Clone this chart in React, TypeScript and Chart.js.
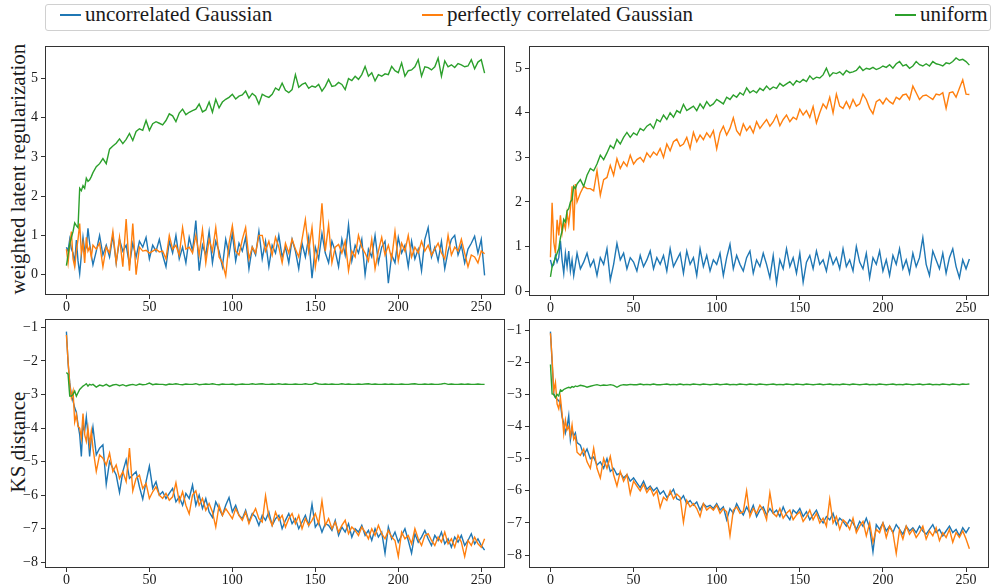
import React, { useEffect, useRef } from 'react';
import { Chart, registerables } from 'chart.js';

Chart.register(...registerables);

// x positions (training step index)
const X = [0, 1, 2, 3, 4, 5, 6, 7, 8, 9, 10, 11, 12, 13, 14, 15, 16,
  18, 20, 22, 24, 26, 28, 30, 32, 34, 36,
  38, 40, 42, 44, 46, 48, 50, 52, 54, 56,
  58, 60, 62, 64, 66, 68, 70, 72, 74, 76,
  78, 80, 82, 84, 86, 88, 90, 92, 94, 96,
  98, 100, 102, 104, 106, 108, 110, 112, 114, 116,
  118, 120, 122, 124, 126, 128, 130, 132, 134, 136,
  138, 140, 142, 144, 146, 148, 150, 152, 154, 156,
  158, 160, 162, 164, 166, 168, 170, 172, 174, 176,
  178, 180, 182, 184, 186, 188, 190, 192, 194, 196,
  198, 200, 202, 204, 206, 208, 210, 212, 214, 216,
  218, 220, 222, 224, 226, 228, 230, 232, 234, 236,
  238, 240, 242, 244, 246, 248, 250, 252];

const X_TICKS = [0, 50, 100, 150, 200, 250];
const REG_TICKS = [0, 1, 2, 3, 4, 5];
const KS_TICKS = [-8, -7, -6, -5, -4, -3, -2, -1];

const SERIES_LABELS = ['uncorrelated Gaussian', 'perfectly correlated Gaussian', 'uniform'];
const SERIES_COLORS = ['#1f77b4', '#ff7f0e', '#2ca02c'];
const Y_TITLES = ['weighted latent regularization', 'KS distance'];

// ---------- top-left: weighted latent regularization ----------
const TL_UNCORR = [0.7, 0.6, 0.9, 0.65, 0.55, 0.3, 0.88, 0.35, 0.02, 0.5, 0.95, 0.6, 0.7, 1.18, 0.8, 0.5, 0.25,
  0.6, 1.0, 0.5, 0.75, 0.45, 1.0, 0.3, 0.9, 0.6, 0.75,
  0.25, 0.8, 0.45, 0.85, 0.7, 0.95, 0.4, 0.75, 0.6, 0.9,
  0.5, 0.2, 0.85, 0.55, 1.0, 0.4, 0.7, 0.3, 0.95, 0.6,
  1.38, 0.1, 0.75, 0.5, 1.1, 0.3, 0.85, 0.6, 0.2, 0.9,
  0.5, 1.05, 0.35, 0.8, 0.6, 0.95, 0.15, 0.7, 0.5, 1.1,
  0.4, 0.85, 0.2, 0.75, 0.55, 1.0, 0.45, 0.7, 0.3, 0.9,
  0.6, 0.15, 0.8, 0.45, 0.95, -0.09, 0.7, 0.4, 1.05, 0.55,
  0.3, 0.85, 0.6, 0.2, 0.9, 0.5, 1.27, 0.35, 0.75, 0.55,
  0.9, 0.0, 0.65, 0.45, 1.0, 0.3, 0.7, 0.85, -0.22, 0.5,
  0.3, 0.95, 0.55, 0.75, 0.2, 0.85, 0.4, 0.65, 0.1, 0.9,
  1.2, 0.45, 0.7, 0.35, 0.85, 0.15, 0.6, 0.9, 1.0, 0.5,
  0.75, 0.3, 0.65, 0.8, 0.98, 0.55, 0.9, -0.02];
const TL_CORR = [0.65, 0.3, 0.75, 1.1, 0.4, 0.2, 0.6, 0.9, 1.3, 0.55, 0.8, 0.3, 0.95, 0.6, 0.7, 0.45, 0.75,
  0.65, 0.8, 0.2, 0.7, 0.55, 1.1, 0.3, 0.95, 0.2, 1.42,
  0.1, 1.3, 0.0, 0.7, 0.6, 0.62, 0.55, 0.6, 0.65, 0.58,
  0.6, 0.4, 1.0, 0.65, 0.75, 0.5, 1.2, 0.65, 0.7, 0.55,
  1.0, 0.5, 1.15, 0.3, 0.9, 0.6, 1.2, 0.45, 0.3, -0.03,
  0.8, 1.25, 0.6, 0.5, 0.9, 1.2, 0.4, 0.7, 0.55, 1.0,
  1.0, 0.6, 0.85, 0.5, 0.95, 0.7, 0.3, 0.8, 0.55, 0.9,
  0.65, 0.45, 0.9, 1.4, 0.6, 1.2, 0.2, 0.75, 1.82, 0.6,
  1.27, 0.3, 0.7, 0.77, 0.55, 0.85, 0.1, 0.6, 0.45, 1.0,
  0.7, 0.55, 0.35, 0.9, 0.15, 0.6, 0.95, 0.5, 0.75, 0.4,
  1.1, 0.35, 0.8, 0.6, 1.0, 0.45, 0.7, 0.55, 0.85, 0.6,
  0.75, 0.5, 0.65, 0.8, 0.55, 0.4, 1.0, 0.5, 0.7, 0.6,
  0.9, 0.55, 0.2, 0.5, 0.45, 0.3, 0.6, 0.53];
const TL_UNIFORM = [0.23, 0.5, 0.79, 0.95, 1.1, 1.32, 1.25, 1.2, 2.2, 2.14, 2.27, 2.2, 2.46, 2.38, 2.42, 2.5, 2.6,
  2.75, 2.83, 2.96, 2.83, 3.2, 3.28, 3.35, 3.46, 3.34, 3.45,
  3.6, 3.42, 3.65, 3.72, 3.68, 3.93, 3.68, 3.85, 3.9, 3.86,
  3.82, 3.93, 4.1, 4.05, 3.9, 4.12, 4.22, 4.08, 4.14, 4.18,
  4.22, 4.35, 4.15, 4.2, 4.4, 4.14, 4.47, 4.25, 4.4, 4.47,
  4.52, 4.6, 4.48, 4.55, 4.58, 4.68, 4.5, 4.62, 4.55, 4.35,
  4.6, 4.55, 4.52, 4.6, 4.76, 4.7, 4.88, 4.7, 4.64, 4.72,
  5.1, 4.78, 4.85, 4.89, 4.75, 4.81, 4.78, 4.85, 4.68, 4.8,
  4.98, 4.8, 4.82, 4.9, 4.85, 4.72, 5.0, 4.95, 5.06, 4.98,
  5.1, 5.31, 5.06, 5.15, 4.94, 5.1, 5.06, 5.12, 5.1, 5.31,
  5.2, 5.15, 5.4, 5.06, 5.2, 5.22, 5.3, 5.48, 5.06, 5.3,
  5.28, 5.22, 5.3, 5.52, 5.06, 5.45, 5.3, 5.35, 5.28, 5.38,
  5.35, 5.3, 5.32, 5.48, 5.25, 5.42, 5.48, 5.14];

// ---------- top-right: weighted latent regularization ----------
const TR_UNCORR = [0.7, 0.55, 0.6, 0.8, 0.65, 0.75, 1.13, 0.7, 0.4, 0.85, 0.55, 0.9, 0.45, 0.7, 0.35, 0.6, 0.85,
  0.5, 0.65, 0.85, 0.55, 0.7, 0.35, 0.75, 0.6, 0.95, 0.25,
  0.6, 1.07, 0.7, 0.85, 0.5, 0.75, 0.65, 0.45, 0.8, 0.55,
  0.7, 0.9, 0.5, 0.75, 0.6, 0.8, 0.45, 0.95, 0.55, 0.7,
  0.85, 0.4, 0.9, 0.6, 0.75, 0.35, 0.95, 0.55, 0.8, 0.45,
  0.7, 0.6, 0.85, 0.35, 0.75, 1.05, 0.5, 0.8, 0.6, 0.45,
  0.75, 0.9, 0.4, 0.7, 0.55, 0.85, 0.6, 0.3, 0.8, 0.18,
  0.7, 0.5, 0.95, 0.55, 0.75, 0.4, 0.85, 0.2, 0.65, 0.8,
  0.5, 0.9, 0.6, 0.7, 0.45, 0.85, 0.6, 0.75, 0.5, 0.95,
  0.55, 0.7, 0.45, 1.0, 0.65, 0.5, 0.85, 0.3, 0.75, 0.6,
  0.9, 0.45, 0.7, 0.35, 0.8, 0.6, 0.95, 0.5, 0.7, 0.4,
  0.85, 0.55, 0.75, 1.2, 0.6, 0.35, 0.9, 0.7, 0.5, 0.85,
  0.4, 0.75, 0.95, 0.55, 0.3, 0.7, 0.5, 0.72];
const TR_CORR = [0.76, 1.98, 1.1, 0.85, 1.6, 1.25, 1.7, 1.3, 1.55, 1.4, 1.75, 1.5, 1.85, 2.35, 1.36, 2.4, 2.0,
  2.2, 2.35, 2.3, 2.3, 2.25, 2.7, 2.15, 2.5, 2.55, 2.82,
  2.6, 2.97, 2.75, 2.9, 2.8, 3.05, 2.85, 2.95, 3.0, 2.9,
  3.1, 3.0, 3.12, 3.05, 3.2, 3.0, 3.3, 3.15, 3.35, 3.41,
  3.25, 3.3, 3.45, 3.2, 3.56, 3.35, 3.5, 3.4, 3.55, 3.45,
  3.6, 3.19, 3.55, 3.7, 3.5, 3.65, 3.89, 3.6, 3.5, 3.75,
  3.6, 3.7, 3.55, 3.8, 3.65, 3.75, 3.85, 3.7, 3.8, 3.95,
  3.71, 3.85, 3.95, 3.8, 3.9, 3.85, 4.08, 3.95, 4.05, 3.9,
  4.14, 3.77, 4.0, 4.2, 4.1, 4.35, 4.0, 4.42, 4.15, 4.1,
  4.25, 4.1, 4.3, 4.15, 4.2, 4.42, 4.3, 4.1, 3.98, 4.25,
  4.3, 4.2, 4.33, 4.25, 4.2, 4.35, 4.3, 4.4, 4.42, 4.3,
  4.6, 4.45, 4.3, 4.38, 4.4, 4.35, 4.3, 4.42, 4.4, 4.45,
  4.1, 4.45, 4.47, 4.35, 4.55, 4.74, 4.42, 4.41];
const TR_UNIFORM = [0.32, 0.55, 0.65, 0.75, 0.85, 0.95, 1.2, 1.35, 1.61, 1.55, 1.8, 1.85, 2.0, 2.05, 2.35, 2.3, 2.4,
  2.5, 2.35, 2.6, 2.75, 2.7, 2.85, 3.05, 2.95, 3.1, 3.27,
  3.2, 3.4, 3.3, 3.45, 3.56, 3.45, 3.55, 3.5, 3.65, 3.6,
  3.7, 3.75, 3.65, 3.85, 3.8, 3.95, 3.85, 4.0, 3.9, 4.05,
  4.0, 4.19, 4.05, 4.1, 4.15, 4.05, 4.2, 4.1, 4.25, 4.15,
  4.2, 4.3, 4.25, 4.2, 4.35, 4.3, 4.4, 4.35, 4.45, 4.4,
  4.56, 4.45, 4.5, 4.45, 4.55, 4.5, 4.6, 4.52, 4.58, 4.55,
  4.66, 4.6, 4.65, 4.7, 4.62, 4.72, 4.68, 4.75, 4.7, 4.83,
  4.75, 4.8, 4.78, 4.85, 5.0, 4.82, 4.9, 4.88, 4.92, 4.85,
  4.95, 4.9, 4.92, 4.95, 5.04, 4.95, 5.0, 4.98, 5.02, 4.97,
  5.0, 5.05, 5.02, 5.08, 5.0, 5.1, 5.15, 5.05, 5.08, 5.0,
  5.05, 5.15, 5.08, 5.05, 5.1, 5.05, 5.15, 5.1, 5.08, 5.05,
  5.12, 5.1, 5.15, 5.23, 5.18, 5.2, 5.15, 5.07];

// ---------- bottom-left: KS distance ----------
const BL_UNCORR = [-1.13, -2.06, -2.65, -3.03, -3.2, -3.4, -3.53, -3.9, -4.2, -4.85, -3.9, -4.1, -3.67, -4.2, -4.85, -4.3, -3.97,
  -4.8, -4.6, -4.5, -5.68, -5.0, -5.2, -5.4, -5.92, -5.3, -4.95,
  -5.5, -5.4, -5.3, -5.75, -6.12, -5.6, -5.14, -5.8, -5.6, -6.0,
  -5.9, -6.1, -5.95, -5.8, -6.2, -6.05, -6.3, -5.95, -6.1, -5.7,
  -6.3, -6.0, -6.4, -6.1, -6.5, -6.66, -6.2, -6.4, -6.6, -6.3,
  -6.07, -6.5, -6.3, -6.6, -6.7, -6.45, -6.8, -6.55, -6.65, -6.9,
  -6.6, -6.75, -6.5, -6.9, -6.7, -6.6, -7.0, -6.75, -6.55, -6.85,
  -6.7, -7.0, -6.8, -6.6, -6.9, -6.27, -6.95, -6.8, -7.1, -6.85,
  -6.9, -7.05, -6.75, -7.2, -6.95, -7.1, -6.85, -7.25, -7.0, -7.1,
  -6.9, -7.2, -7.05, -7.35, -7.0, -7.25, -7.1, -7.73, -6.95, -7.3,
  -7.1, -7.4, -7.2, -7.0, -7.35, -7.73, -7.15, -7.4, -7.25, -7.05,
  -7.3, -7.5, -7.2, -7.35, -7.1, -7.45, -7.3, -7.55, -7.25, -7.4,
  -7.2, -7.5, -7.35, -7.15, -7.45, -7.3, -7.5, -7.64];
const BL_CORR = [-1.23, -2.0, -2.7, -3.1, -2.9, -3.82, -3.6, -3.95, -4.0, -4.3, -3.57, -4.2, -4.4, -4.0, -4.5, -4.1, -4.6,
  -5.29, -4.8, -4.9, -5.1, -4.75, -5.3, -5.1, -5.5, -5.3, -5.6,
  -4.6, -5.87, -5.5, -5.4, -5.8, -5.65, -6.1, -5.9, -5.75, -6.0,
  -6.1, -5.95, -6.15, -6.05, -5.63, -6.2, -5.9, -6.3, -6.56, -6.0,
  -5.87, -6.3, -6.1, -6.45, -6.25, -6.5, -6.95, -6.3, -6.6, -6.4,
  -6.55, -6.7, -6.4, -6.6, -6.75, -6.5, -6.85, -6.6, -6.4, -6.7,
  -6.8, -6.02, -6.65, -6.9, -6.5, -6.75, -6.6, -6.95, -6.7, -6.55,
  -6.85, -6.6, -7.0, -6.7, -6.9, -6.75, -6.55, -6.85, -6.17, -6.9,
  -6.7, -7.0, -6.8, -7.1, -6.9, -6.75, -7.15, -6.95, -7.05, -7.2,
  -6.95, -7.1, -7.3, -7.0, -7.2, -6.9, -7.15, -7.3, -7.05, -7.25,
  -7.35, -7.83, -7.1, -7.3, -7.2, -7.45, -7.0, -7.3, -7.5, -7.2,
  -7.15, -7.35, -7.5, -7.25, -7.4, -7.1, -7.45, -7.3, -7.55, -7.2,
  -7.4, -7.83, -7.35, -7.5, -7.25, -7.45, -7.55, -7.3];
const BL_UNIFORM = [-2.35, -2.4, -3.05, -3.05, -3.0, -2.9, -3.05, -2.95, -2.85, -2.8, -2.75, -2.72, -2.68, -2.75, -2.7, -2.72, -2.7,
  -2.78, -2.72, -2.75, -2.7, -2.76, -2.72, -2.7, -2.74, -2.71, -2.75,
  -2.72, -2.7, -2.73, -2.69, -2.71, -2.7, -2.66, -2.71, -2.69, -2.7,
  -2.7, -2.72, -2.69, -2.7, -2.68, -2.7, -2.71, -2.69, -2.7, -2.7,
  -2.68, -2.71, -2.7, -2.69, -2.7, -2.68, -2.7, -2.71, -2.69, -2.7,
  -2.7, -2.69, -2.71, -2.7, -2.69, -2.7, -2.7, -2.68, -2.7, -2.69,
  -2.68, -2.7, -2.7, -2.69, -2.7, -2.68, -2.7, -2.69, -2.7, -2.7,
  -2.69, -2.7, -2.7, -2.68, -2.7, -2.7, -2.66, -2.69, -2.7, -2.69,
  -2.7, -2.69, -2.7, -2.7, -2.68, -2.7, -2.69, -2.7, -2.7, -2.69,
  -2.7, -2.69, -2.68, -2.7, -2.69, -2.7, -2.7, -2.69, -2.7, -2.69,
  -2.7, -2.7, -2.69, -2.7, -2.7, -2.69, -2.68, -2.7, -2.7, -2.69,
  -2.7, -2.69, -2.7, -2.7, -2.69, -2.67, -2.7, -2.69, -2.7, -2.7,
  -2.69, -2.7, -2.69, -2.7, -2.7, -2.69, -2.7, -2.7];

// ---------- bottom-right: KS distance ----------
const BR_UNCORR = [-1.05, -2.0, -2.99, -3.1, -3.15, -3.2, -3.3, -3.7, -3.9, -4.2, -4.0, -3.66, -4.42, -4.1, -4.3, -4.2, -4.5,
  -4.58, -4.9, -4.7, -5.0, -4.95, -5.2, -5.1, -5.3, -5.0, -5.4,
  -5.3, -5.5, -5.45, -5.6, -5.5, -5.7, -5.6, -5.75, -5.9, -5.7,
  -5.95, -5.85, -6.0, -5.9, -6.1, -6.0, -6.2, -6.1, -5.95, -6.25,
  -6.3, -6.15, -6.4, -6.3, -6.45, -6.35, -6.6, -6.4, -6.5, -6.45,
  -6.55, -6.4, -6.6, -6.5, -6.9, -6.55, -6.7, -6.4, -6.6, -6.75,
  -6.5, -6.7, -6.45, -6.8, -6.6, -6.5, -6.75, -6.55, -6.7, -6.6,
  -6.8, -6.5, -6.75, -6.9, -6.6, -6.7, -6.55, -6.8, -6.65, -6.9,
  -6.75, -6.6, -6.85, -7.0, -6.8, -6.9, -6.7, -7.05, -6.85, -6.95,
  -7.1, -6.9, -7.0, -7.2, -6.95, -7.1, -6.85, -7.15, -7.9, -7.05,
  -7.2, -7.0, -7.25, -7.1, -7.3, -7.05, -7.2, -7.35, -7.1, -7.25,
  -7.15, -7.3, -7.1, -7.25, -7.35, -7.2, -7.05, -7.3, -7.2, -7.4,
  -7.25, -7.1, -7.3, -7.2, -7.4, -7.15, -7.3, -7.13];
const BR_CORR = [-1.1, -1.9, -2.9, -2.63, -3.3, -3.45, -3.1, -3.6, -4.22, -3.8, -4.1, -4.0, -4.3, -3.95, -4.4, -4.3, -4.8,
  -4.9, -4.7, -5.1, -5.3, -4.68, -5.3, -5.6, -5.0, -5.3, -4.93,
  -5.5, -5.85, -5.4, -5.7, -5.5, -6.1, -5.7, -5.85, -6.0, -5.8,
  -6.05, -5.9, -6.15, -6.0, -6.52, -6.2, -6.3, -6.0, -6.25, -6.1,
  -6.2, -6.98, -6.3, -6.5, -6.4, -6.55, -6.8, -6.4, -6.6, -6.5,
  -6.6, -6.45, -6.7, -6.55, -6.65, -7.39, -6.6, -6.5, -6.7, -6.65,
  -6.0, -6.8, -6.55, -6.7, -6.45, -6.6, -6.9, -6.06, -6.7, -6.8,
  -6.55, -6.85, -6.7, -6.6, -6.9, -6.75, -6.65, -6.95, -6.8, -6.6,
  -6.9, -6.7, -7.0, -6.85, -7.1, -6.26, -7.0, -6.8, -7.2, -6.9,
  -7.0, -7.2, -6.85, -7.3, -7.1, -6.95, -7.4, -7.0, -7.6, -7.2,
  -7.3, -7.0, -7.45, -7.1, -7.3, -7.95, -7.2, -7.5, -7.1, -7.35,
  -7.2, -7.45, -7.3, -7.1, -7.5, -7.25, -7.4, -7.15, -7.55, -7.3,
  -7.45, -7.2, -7.6, -7.3, -7.45, -7.25, -7.5, -7.8];
const BR_UNIFORM = [-2.07, -2.99, -3.0, -3.1, -3.0, -3.05, -2.86, -2.9, -2.85, -2.82, -2.8, -2.78, -2.8, -2.76, -2.78, -2.74, -2.76,
  -2.72, -2.74, -2.78, -2.75, -2.72, -2.7, -2.73, -2.71, -2.72, -2.7,
  -2.72, -2.78, -2.72, -2.7, -2.71, -2.69, -2.7, -2.7, -2.68, -2.7,
  -2.69, -2.7, -2.68, -2.7, -2.7, -2.69, -2.68, -2.7, -2.69, -2.7,
  -2.68, -2.7, -2.69, -2.7, -2.68, -2.69, -2.7, -2.68, -2.69, -2.7,
  -2.69, -2.68, -2.7, -2.69, -2.68, -2.7, -2.69, -2.7, -2.68, -2.69,
  -2.7, -2.68, -2.69, -2.7, -2.68, -2.69, -2.7, -2.69, -2.68, -2.7,
  -2.69, -2.7, -2.68, -2.69, -2.7, -2.68, -2.69, -2.7, -2.68, -2.69,
  -2.7, -2.69, -2.68, -2.7, -2.69, -2.68, -2.7, -2.69, -2.7, -2.68,
  -2.69, -2.7, -2.68, -2.69, -2.7, -2.69, -2.68, -2.7, -2.69, -2.7,
  -2.68, -2.69, -2.7, -2.69, -2.68, -2.7, -2.69, -2.7, -2.68, -2.69,
  -2.7, -2.69, -2.68, -2.7, -2.69, -2.68, -2.7, -2.69, -2.7, -2.68,
  -2.69, -2.7, -2.68, -2.69, -2.7, -2.68, -2.69, -2.68];

const FONT = "'Liberation Serif', 'Times New Roman', Times, serif";
const AXIS_COLOR = '#333333';
const TEXT_COLOR = '#1a1a1a';

const fmt = (v: number) => (v < 0 ? '\u2212' + Math.abs(v) : String(v));

const framePlugin = {
  id: 'frame',
  afterDraw(chart: any) {
    const { ctx, chartArea: a } = chart;
    ctx.save();
    ctx.strokeStyle = AXIS_COLOR;
    ctx.lineWidth = 1;
    ctx.strokeRect(Math.round(a.left) + 0.5, Math.round(a.top) + 0.5,
      Math.round(a.right - a.left) - 1, Math.round(a.bottom - a.top) - 1);
    ctx.restore();
  },
};

type Box = { l: number; t: number; w: number; h: number; pt: number; pr: number; yw: number; xh: number };

function Panel(props: { box: Box; xr: [number, number]; yr: [number, number]; yTicks: number[]; series: number[][] }) {
  const ref = useRef<HTMLCanvasElement>(null);
  const { box, xr, yr, yTicks, series } = props;
  useEffect(() => {
    if (!ref.current) return;
    const chart = new Chart(ref.current, {
      type: 'line',
      data: {
        datasets: series.map((s, i) => ({
          label: SERIES_LABELS[i],
          data: X.map((x, j) => ({ x, y: s[j] })),
          borderColor: SERIES_COLORS[i],
          backgroundColor: SERIES_COLORS[i],
          borderWidth: 1.4,
          pointRadius: 0,
          tension: 0,
          fill: false,
          order: 3 - i,
        })),
      },
      options: {
        animation: false,
        responsive: false,
        maintainAspectRatio: false,
        devicePixelRatio: 1,
        layout: { padding: { top: box.pt, right: box.pr, left: 0, bottom: 0 } },
        plugins: { legend: { display: false }, tooltip: { enabled: false } },
        scales: {
          x: {
            type: 'linear',
            min: xr[0],
            max: xr[1],
            afterBuildTicks: (s: any) => { s.ticks = X_TICKS.map((v) => ({ value: v })); },
            afterFit: (s: any) => { s.height = box.xh; },
            grid: { drawOnChartArea: false, drawTicks: true, tickLength: 4, color: AXIS_COLOR },
            border: { display: false },
            ticks: { font: { family: FONT, size: 14 }, color: TEXT_COLOR, padding: 0, maxRotation: 0, autoSkip: false, callback: (v: any) => fmt(Number(v)) },
          },
          y: {
            type: 'linear',
            min: yr[0],
            max: yr[1],
            afterBuildTicks: (s: any) => { s.ticks = yTicks.map((v) => ({ value: v })); },
            afterFit: (s: any) => { s.width = box.yw; },
            grid: { drawOnChartArea: false, drawTicks: true, tickLength: 4, color: AXIS_COLOR },
            border: { display: false },
            ticks: { font: { family: FONT, size: 14 }, color: TEXT_COLOR, padding: 3, autoSkip: false, callback: (v: any) => fmt(Number(v)) },
          },
        },
      },
      plugins: [framePlugin],
    } as any);
    return () => chart.destroy();
  }, []);
  return (
    <canvas ref={ref} width={box.w} height={box.h}
      style={{ position: 'absolute', left: box.l, top: box.t, width: box.w, height: box.h }} />
  );
}

function YTitle(props: { text: string; cx: number; cy: number }) {
  const W = 300;
  return (
    <div style={{
      position: 'absolute', left: props.cx - W / 2, top: props.cy - 12, width: W, height: 24,
      lineHeight: '24px', textAlign: 'center', fontFamily: FONT, fontSize: 21, color: TEXT_COLOR,
      transform: 'rotate(-90deg)', whiteSpace: 'nowrap',
    }}>{props.text}</div>
  );
}

function LegendItem(props: { x: number; label: string; color: string }) {
  return (
    <>
      <div style={{ position: 'absolute', left: props.x, top: 14, width: 21, height: 2, background: props.color }} />
      <div style={{ position: 'absolute', left: props.x + 25, top: 2, height: 24, lineHeight: '24px', fontFamily: FONT, fontSize: 21, color: TEXT_COLOR, whiteSpace: 'nowrap' }}>{props.label}</div>
    </>
  );
}

export default function App() {
  return (
    <div style={{ position: 'absolute', left: 0, top: 0, width: 995, height: 588, overflow: 'hidden', background: '#ffffff' }}>
      <div style={{ position: 'absolute', left: 45, top: 4, width: 944, height: 25, border: '1px solid #d0d0d0', borderRadius: 3, background: '#fff' }} />
      <LegendItem x={60} label={SERIES_LABELS[0]} color={SERIES_COLORS[0]} />
      <LegendItem x={422} label={SERIES_LABELS[1]} color={SERIES_COLORS[1]} />
      <LegendItem x={895} label={SERIES_LABELS[2]} color={SERIES_COLORS[2]} />

      <YTitle text={Y_TITLES[0]} cx={18} cy={169} />
      <YTitle text={Y_TITLES[1]} cx={18} cy={442} />

      <Panel box={{ l: 20, t: 35, w: 492, h: 280, pt: 8, pr: 7, yw: 25, xh: 20 }} xr={[-12.9, 264.3]} yr={[-0.52, 5.82]} yTicks={REG_TICKS} series={[TL_UNCORR, TL_CORR, TL_UNIFORM]} />
      <Panel box={{ l: 504, t: 35, w: 490, h: 281, pt: 8, pr: 5, yw: 25, xh: 20 }} xr={[-12.9, 263.8]} yr={[-0.11, 5.49]} yTicks={REG_TICKS} series={[TR_UNCORR, TR_CORR, TR_UNIFORM]} />
      <Panel box={{ l: 20, t: 308, w: 492, h: 280, pt: 8, pr: 7, yw: 25, xh: 20 }} xr={[-12.9, 264.3]} yr={[-8.17, -0.765]} yTicks={KS_TICKS} series={[BL_UNCORR, BL_CORR, BL_UNIFORM]} />
      <Panel box={{ l: 504, t: 308, w: 490, h: 280, pt: 8, pr: 5, yw: 25, xh: 20 }} xr={[-12.9, 263.8]} yr={[-8.4, -0.67]} yTicks={KS_TICKS} series={[BR_UNCORR, BR_CORR, BR_UNIFORM]} />
    </div>
  );
}
